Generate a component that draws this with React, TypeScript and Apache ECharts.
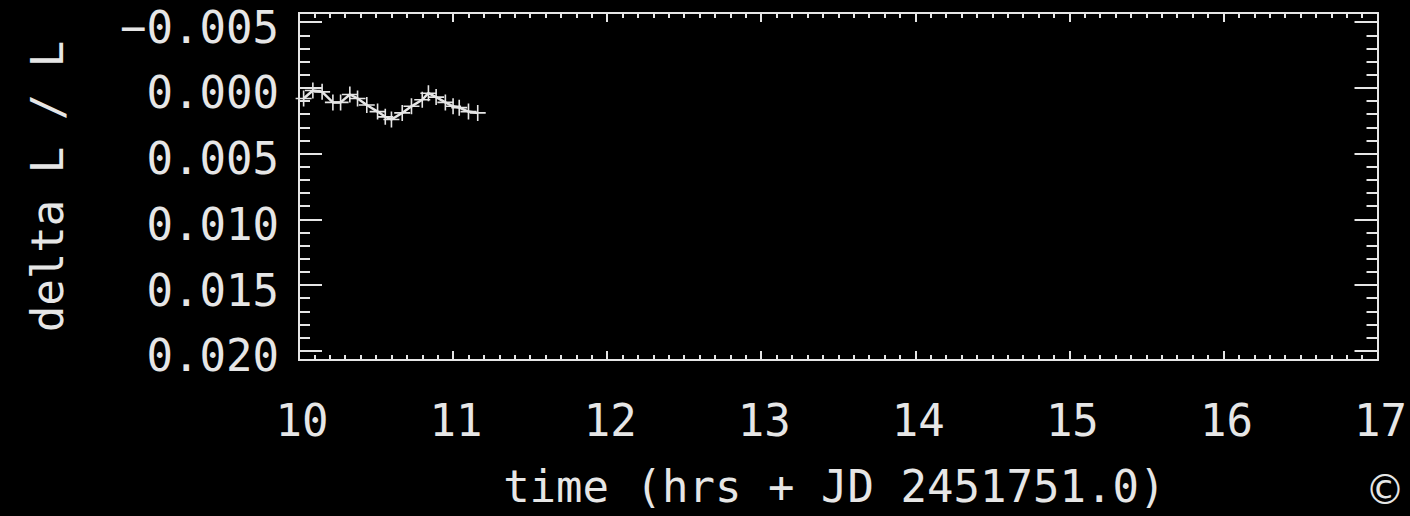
import React, { useEffect, useRef } from "react";
import * as echarts from "echarts";

const times = [10.03, 10.09, 10.15, 10.22, 10.27, 10.33, 10.38, 10.44, 10.51, 10.56, 10.6, 10.67, 10.73, 10.8, 10.84, 10.89, 10.95, 11.0, 11.04, 11.1, 11.16];
const values = [0.0008, 0.0002, 0.0003, 0.0011, 0.0011, 0.0005, 0.0008, 0.0013, 0.0018, 0.0022, 0.0024, 0.0019, 0.0014, 0.0009, 0.0004, 0.0007, 0.0011, 0.0014, 0.0015, 0.0018, 0.0019];
const yMajorTicks = [-0.005, 0, 0.005, 0.01, 0.015, 0.02];
const yMinorTicks = [
  -0.004, -0.003, -0.002, -0.001, 0.001, 0.002, 0.003, 0.004, 0.006, 0.007, 0.008, 0.009,
  0.011, 0.012, 0.013, 0.014, 0.016, 0.017, 0.018, 0.019,
];
const xTitle = "time (hrs + JD 2451751.0)";
const yTitle = "delta L / L";

const FG = "#e6e6e6";
const FONT = "DejaVu Sans Mono";
const PLUS =
  "path://M-0.1,-1 L0.1,-1 L0.1,-0.1 L1,-0.1 L1,0.1 L0.1,0.1 L0.1,1 L-0.1,1 L-0.1,0.1 L-1,0.1 L-1,-0.1 L-0.1,-0.1 Z";

export default function App() {
  const ref = useRef<HTMLDivElement>(null);
  useEffect(() => {
    if (!ref.current) return;
    const chart = echarts.init(ref.current, null, { renderer: "svg" });
    const yBase = {
      type: "value",
      min: -0.0057,
      max: 0.0207,
      inverse: true,
      splitLine: { show: false },
      axisLine: { show: true, lineStyle: { color: FG, width: 2 } },
    };
    chart.setOption({
      animation: false,
      backgroundColor: "#000",
      grid: { left: 299, right: 31, top: 13, bottom: 156, containLabel: false },
      xAxis: [
        {
          type: "value",
          min: 10,
          max: 17,
          interval: 1,
          position: "bottom",
          axisLine: { show: true, onZero: false, lineStyle: { color: FG, width: 2 } },
          axisTick: { show: true, inside: true, length: 9, lineStyle: { color: FG, width: 2 } },
          minorTick: { show: true, splitNumber: 10, length: 5, lineStyle: { color: FG, width: 2 } },
          splitLine: { show: false },
          axisLabel: { color: FG, fontFamily: FONT, fontSize: 44, margin: 38, padding: [0, 0, 0, 6] },
          name: xTitle,
          nameLocation: "middle",
          nameGap: 104,
          nameTextStyle: { color: FG, fontFamily: FONT, fontSize: 44, padding: [0, 8, 0, 0] },
        },
        {
          type: "value",
          min: 10,
          max: 17,
          interval: 1,
          position: "top",
          axisLine: { show: true, onZero: false, lineStyle: { color: FG, width: 2 } },
          axisTick: { show: true, inside: true, length: 9, lineStyle: { color: FG, width: 2 } },
          minorTick: { show: true, splitNumber: 10, length: 5, lineStyle: { color: FG, width: 2 } },
          splitLine: { show: false },
          axisLabel: { show: false },
        },
      ],
      yAxis: [
        {
          ...yBase,
          position: "left",
          axisTick: { show: true, inside: true, length: 23, customValues: yMajorTicks, lineStyle: { color: FG, width: 2 } },
          axisLabel: {
            show: true,
            customValues: yMajorTicks,
            color: FG,
            fontFamily: FONT,
            fontSize: 44,
            margin: 20,
            verticalAlign: "top",
            lineHeight: 10,
            formatter: (v: number) => v.toFixed(3).replace("-", "\u2212"),
          },
          name: yTitle,
          nameLocation: "middle",
          nameRotate: 90,
          nameGap: 230,
          nameTextStyle: { color: FG, fontFamily: FONT, fontSize: 44 },
        },
        {
          ...yBase,
          position: "left",
          axisTick: { show: true, inside: true, length: 11, customValues: yMinorTicks, lineStyle: { color: FG, width: 2 } },
          axisLabel: { show: false },
        },
        {
          ...yBase,
          position: "right",
          axisTick: { show: true, inside: true, length: 23, customValues: yMajorTicks, lineStyle: { color: FG, width: 2 } },
          axisLabel: { show: false },
        },
        {
          ...yBase,
          position: "right",
          axisTick: { show: true, inside: true, length: 11, customValues: yMinorTicks, lineStyle: { color: FG, width: 2 } },
          axisLabel: { show: false },
        },
      ],
      graphic: [
        {
          type: "text",
          x: 1385,
          y: 490,
          style: {
            text: "\u00a9",
            fill: FG,
            font: "40px DejaVu Sans",
            align: "center",
            verticalAlign: "middle",
          },
        },
      ],
      series: [
        {
          type: "line",
          xAxisIndex: 0,
          yAxisIndex: 0,
          data: times.map((t, i) => [t, values[i]]),
          lineStyle: { color: FG, width: 2.5 },
          itemStyle: { color: FG },
          symbol: PLUS,
          symbolSize: 16,
          showSymbol: true,
          clip: true,
        },
      ],
    });
    return () => chart.dispose();
  }, []);
  return <div ref={ref} style={{ width: 1410, height: 516, position: "absolute", left: 0, top: 0 }} />;
}
